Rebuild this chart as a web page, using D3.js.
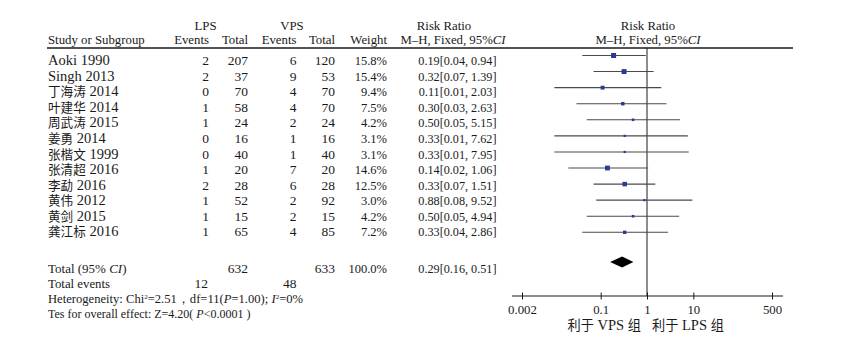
<!DOCTYPE html>
<html><head><meta charset="utf-8">
<script src="https://cdn.jsdelivr.net/npm/d3@7/dist/d3.min.js"></script>
<style>
html,body{margin:0;padding:0;background:#fff;}
svg text{font-family:"Liberation Serif","Times New Roman",serif;fill:#1a1a1a;}
.cjk{font-family:"Liberation Serif","Noto Sans CJK SC",serif;}
</style></head>
<body>
<svg id="c" width="854" height="343"></svg>
<script>
const studies = ["Aoki 1990","Singh 2013","丁海涛 2014","叶建华 2014","周武涛 2015","姜勇 2014","张楷文 1999","张清超 2016","李勐 2016","黄伟 2012","黄剑 2015","龚江标 2016"];
const lpsEvents = [2,2,0,1,1,0,0,1,2,1,1,1];
const lpsTotal  = [207,37,70,58,24,16,40,20,28,52,15,65];
const vpsEvents = [6,9,4,4,2,1,1,7,6,2,2,4];
const vpsTotal  = [120,53,70,70,24,16,40,20,28,92,15,85];
const weights   = [15.8,15.4,9.4,7.5,4.2,3.1,3.1,14.6,12.5,3.0,4.2,7.2];
const rr        = [0.19,0.32,0.11,0.30,0.50,0.33,0.33,0.14,0.33,0.88,0.50,0.33];
const ciLow     = [0.04,0.07,0.01,0.03,0.05,0.01,0.01,0.02,0.07,0.08,0.05,0.04];
const ciHigh    = [0.94,1.39,2.03,2.63,5.15,7.62,7.95,1.06,1.51,9.52,4.94,2.86];
const total = {lpsTotal:632, vpsTotal:633, weight:100.0, rr:0.29, lo:0.16, hi:0.51, lpsEvents:12, vpsEvents:48};
const tickValues = [0.002,0.1,1,10,500];
const tickLabels = ["0.002","0.1","1","10","500"];

const svg = d3.select("#c");
const n = studies.length;
const x = d3.scaleLog().domain([0.002,500]).range([522,772]);
const yText = d3.scaleLinear().domain([0,n-1]).range([65.3,236.2]);
const yPlot = d3.scaleLinear().domain([0,n-1]).range([55.5,232.3]);
const f2 = d3.format(".2f");

function txt(g, xx, yy, s, anchor, size, cls){
  return g.append("text").attr("x",xx).attr("y",yy).attr("text-anchor",anchor||"start")
    .attr("font-size",size||12.5).attr("class",cls||null).text(s);
}
// mixed CJK / Latin text: CJK runs slightly smaller
function mixed(g, xx, yy, s, anchor, latinSize, cjkSize){
  const t = g.append("text").attr("x",xx).attr("y",yy).attr("text-anchor",anchor||"start").attr("class","cjk");
  const runs = s.match(/[\u3400-\u9fff]+|[^\u3400-\u9fff]+/g) || [];
  runs.forEach(r=>{
    const isC = /[\u3400-\u9fff]/.test(r);
    t.append("tspan").attr("font-size",isC?cjkSize:latinSize).text(r);
  });
  return t;
}

// Header
const hs = 12.8;
txt(svg,205.5,29.5,"LPS","middle",hs);
txt(svg,292,29.5,"VPS","middle",hs);
txt(svg,444,29.5,"Risk Ratio","middle",hs);
txt(svg,648,29.5,"Risk Ratio","middle",hs);
txt(svg,48,43.5,"Study or Subgroup","start",hs);
txt(svg,209,43.5,"Events","end",hs);
txt(svg,248,43.5,"Total","end",hs);
txt(svg,296.5,43.5,"Events","end",hs);
txt(svg,335,43.5,"Total","end",hs);
txt(svg,387,43.5,"Weight","end",hs);
function mh(xx, anchor){
  const t = svg.append("text").attr("x",xx).attr("y",43.5).attr("text-anchor",anchor).attr("font-size",hs);
  t.append("tspan").text("M–H, Fixed, 95%");
  t.append("tspan").attr("font-style","italic").text("CI");
}
mh(453,"middle");
mh(648,"middle");
svg.append("line").attr("x1",47).attr("x2",793).attr("y1",48).attr("y2",48)
  .attr("stroke","#1a1a1a").attr("stroke-width",1.3);

// Rows
const rows = svg.append("g");
studies.forEach((s,i)=>{
  const yy = yText(i);
  mixed(rows,48,yy,s,"start",14.5,12.6);
  txt(rows,209,yy,lpsEvents[i],"end",13.5);
  txt(rows,248,yy,lpsTotal[i],"end",13.5);
  txt(rows,296.5,yy,vpsEvents[i],"end",13.5);
  txt(rows,335,yy,vpsTotal[i],"end",13.5);
  txt(rows,387,yy,weights[i].toFixed(1)+"%","end",12.5);
  txt(rows,496.5,yy,f2(rr[i])+"["+f2(ciLow[i])+", "+f2(ciHigh[i])+"]","end",12.2);
});

// Forest marks
const plot = svg.append("g");
plot.append("line").attr("x1",x(1)).attr("x2",x(1)).attr("y1",48).attr("y2",296)
  .attr("stroke","#1a1a1a").attr("stroke-width",1);
studies.forEach((s,i)=>{
  const yy = yPlot(i);
  plot.append("line").attr("x1",x(ciLow[i])).attr("x2",x(ciHigh[i])).attr("y1",yy).attr("y2",yy)
    .attr("stroke","#4a4a4a").attr("stroke-width",1.1);
  const sz = 5*Math.sqrt(weights[i]/15.8);
  plot.append("rect").attr("x",x(rr[i])-sz/2).attr("y",yy-sz/2).attr("width",sz).attr("height",sz)
    .attr("fill","#2b3a8c");
});

// Total rows
const ty = 272.5;
const tt = svg.append("text").attr("x",48).attr("y",ty).attr("font-size",13);
tt.append("tspan").text("Total (95% ");
tt.append("tspan").attr("font-style","italic").text("CI");
tt.append("tspan").text(")");
txt(svg,248,ty,total.lpsTotal,"end",13.5);
txt(svg,335,ty,total.vpsTotal,"end",13.5);
txt(svg,387,ty,total.weight.toFixed(1)+"%","end",12.5);
txt(svg,496.5,ty,f2(total.rr)+"["+f2(total.lo)+", "+f2(total.hi)+"]","end",12.2);
const dy = 262;
plot.append("path")
  .attr("d",`M${x(total.lo)},${dy} L${x(total.rr)},${dy-5.5} L${x(total.hi)},${dy} L${x(total.rr)},${dy+5.5} Z`)
  .attr("fill","#000");

txt(svg,48,288,"Total events","start",12.8);
txt(svg,208,288,total.lpsEvents,"end",13.5);
txt(svg,296.5,288,total.vpsEvents,"end",13.5);

const het = svg.append("text").attr("x",48).attr("y",302.5).attr("font-size",12.6);
het.append("tspan").text("Heterogeneity: Chi");
het.append("tspan").attr("font-size",7).attr("dy",-4).text("2");
het.append("tspan").attr("dy",4).text("=2.51，df=11(");
het.append("tspan").attr("font-style","italic").text("P");
het.append("tspan").text("=1.00); ");
het.append("tspan").attr("font-style","italic").text("I");
het.append("tspan").attr("font-size",7).attr("dy",-4).text("2");
het.append("tspan").attr("dy",4).text("=0%");

const ov = svg.append("text").attr("x",48).attr("y",317.5).attr("font-size",12);
ov.append("tspan").text("Tes for overall effect: Z=4.20( ");
ov.append("tspan").attr("font-style","italic").text("P");
ov.append("tspan").text("<0.0001 )");

// Axis
const axY = 296;
const ax = svg.append("g").attr("transform",`translate(0,${axY})`)
  .call(d3.axisBottom(x).tickValues(tickValues).tickFormat((d,i)=>tickLabels[i]).tickSize(3.5).tickPadding(5));
ax.select(".domain").remove();
ax.selectAll(".tick line").attr("y1",-3.5).attr("y2",3.5).attr("stroke","#1a1a1a");
ax.selectAll(".tick text").attr("font-size",12.8).attr("font-family","Liberation Serif, serif").attr("fill","#1a1a1a");
ax.append("line").attr("x1",x(0.002)-10).attr("x2",x(500)+11).attr("y1",0).attr("y2",0)
  .attr("stroke","#1a1a1a").attr("stroke-width",1.1);

mixed(svg,641,330,"利于 VPS 组","end",14.5,13.2);
mixed(svg,652,330,"利于 LPS 组","start",14.5,13.2);
</script>
</body></html>
